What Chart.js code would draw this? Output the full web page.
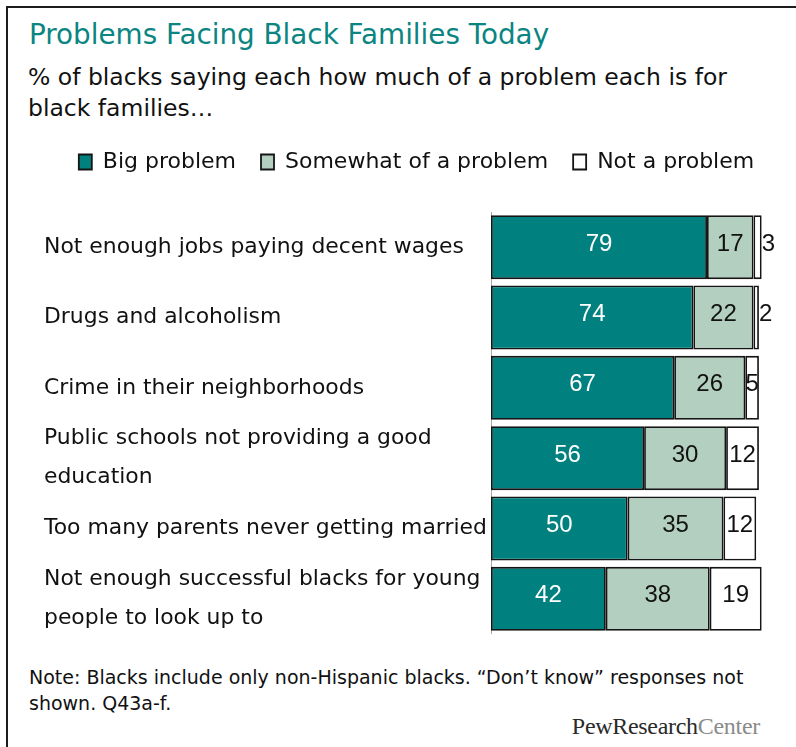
<!DOCTYPE html>
<html>
<head>
<meta charset="utf-8">
<script src="https://cdn.jsdelivr.net/npm/chart.js@4.4.1/dist/chart.umd.min.js"></script>
<style>
  body { margin: 0; width: 796px; height: 747px; background: #fff; position: relative; overflow: hidden; font-family: "DejaVu Sans", sans-serif; }
  .frame { position: absolute; left: 6px; top: 6px; width: 900px; height: 900px; border-left: 2px solid #1c1c1c; border-top: 2px solid #1c1c1c; }
  #title { position: absolute; left: 29px; top: 19px; font-size: 27.8px; line-height: 32px; color: #0a8582; white-space: nowrap; }
  #subtitle { position: absolute; left: 28px; top: 62px; font-size: 23.5px; line-height: 31px; color: #111; white-space: nowrap; }
  #note { position: absolute; left: 29px; top: 664px; font-size: 19px; line-height: 26px; color: #111; white-space: nowrap; }
  #logo { position: absolute; right: 36px; top: 713px; font-family: "Liberation Serif", serif; font-size: 24px; letter-spacing: -0.3px; white-space: nowrap; }
  #logo b { font-weight: normal; color: #2a2a2a; }
  #logo span { color: #8a8a8a; }
  #chart { position: absolute; left: 0; top: 126px; }
</style>
</head>
<body>
<div class="frame"></div>
<div id="title">Problems Facing Black Families Today</div>
<div id="subtitle">% of blacks saying each how much of a problem each is for<br>black families…</div>
<canvas id="chart" width="796" height="508"></canvas>
<div id="note">Note: Blacks include only non-Hispanic blacks. “Don’t know” responses not<br>shown. Q43a-f.</div>
<div id="logo"><b>PewResearch</b><span>Center</span></div>
<script>
const categories = [
  'Not enough jobs paying decent wages',
  'Drugs and alcoholism',
  'Crime in their neighborhoods',
  ['Public schools not providing a good', 'education'],
  'Too many parents never getting married',
  ['Not enough successful blacks for young', 'people to look up to']
];
const seriesNames = ['Big problem', 'Somewhat of a problem', 'Not a problem'];
const bigProblem = [79, 74, 67, 56, 50, 42];
const somewhatProblem = [17, 22, 26, 30, 35, 38];
const notProblem = [3, 2, 5, 12, 12, 19];

// push the plot area down below the legend
const legendGap = {
  id: 'legendGap',
  beforeInit(chart) {
    const fit = chart.legend.fit;
    chart.legend.fit = function () {
      fit.call(this);
      this.height = 86;
    };
  }
};

// numbers on each segment; tiny segments get the number just past the bar end
const segmentLabels = {
  id: 'segmentLabels',
  afterDatasetsDraw(chart) {
    const ctx = chart.ctx;
    ctx.save();
    ctx.font = '24px "Liberation Sans Narrow", "Liberation Sans", sans-serif';
    ctx.textBaseline = 'middle';
    chart.data.datasets.forEach((ds, i) => {
      chart.getDatasetMeta(i).data.forEach((bar, j) => {
        const w = bar.x - bar.base;
        ctx.fillStyle = ds.labelColor;
        if (w < 10) {
          ctx.textAlign = 'left';
          ctx.fillText(ds.data[j], bar.x, bar.y - 3);
        } else {
          ctx.textAlign = 'center';
          ctx.fillText(ds.data[j], bar.base + w / 2, bar.y - 3);
        }
      });
    });
    ctx.restore();
  }
};

const barStyle = { borderColor: '#151515', borderWidth: 1.8, borderSkipped: false, barPercentage: 0.91, categoryPercentage: 1 };

new Chart(document.getElementById('chart'), {
  type: 'bar',
  data: {
    labels: categories,
    datasets: [
      { label: seriesNames[0], data: bigProblem, backgroundColor: '#00807f', labelColor: '#ffffff', ...barStyle },
      { label: seriesNames[1], data: somewhatProblem, backgroundColor: '#b3cfbf', labelColor: '#111111', ...barStyle },
      { label: seriesNames[2], data: notProblem, backgroundColor: '#ffffff', labelColor: '#111111', ...barStyle }
    ]
  },
  options: {
    indexAxis: 'y',
    responsive: false,
    animation: false,
    layout: { padding: { left: 44, right: 7, top: 0, bottom: 0 } },
    scales: {
      x: { stacked: true, display: false, min: 0, max: 109 },
      y: {
        stacked: true,
        grid: { display: false },
        border: { display: true, color: '#a8a8a8', width: 1 },
        ticks: {
          autoSkip: false,
          crossAlign: 'far',
          color: '#111',
          font: { family: '"DejaVu Sans", sans-serif', size: 21.9, lineHeight: 1.77 }
        },
        afterFit(scale) {
          scale.width = 447;
          scale.paddingTop = 0;
          scale.paddingBottom = 0;
        }
      }
    },
    plugins: {
      tooltip: { enabled: false },
      legend: {
        position: 'top',
        align: 'center',
        labels: {
          boxWidth: 13,
          boxHeight: 15,
          padding: 25,
          color: '#111',
          font: { family: '"DejaVu Sans", sans-serif', size: 22 }
        }
      }
    }
  },
  plugins: [legendGap, segmentLabels]
});
</script>
</body>
</html>
